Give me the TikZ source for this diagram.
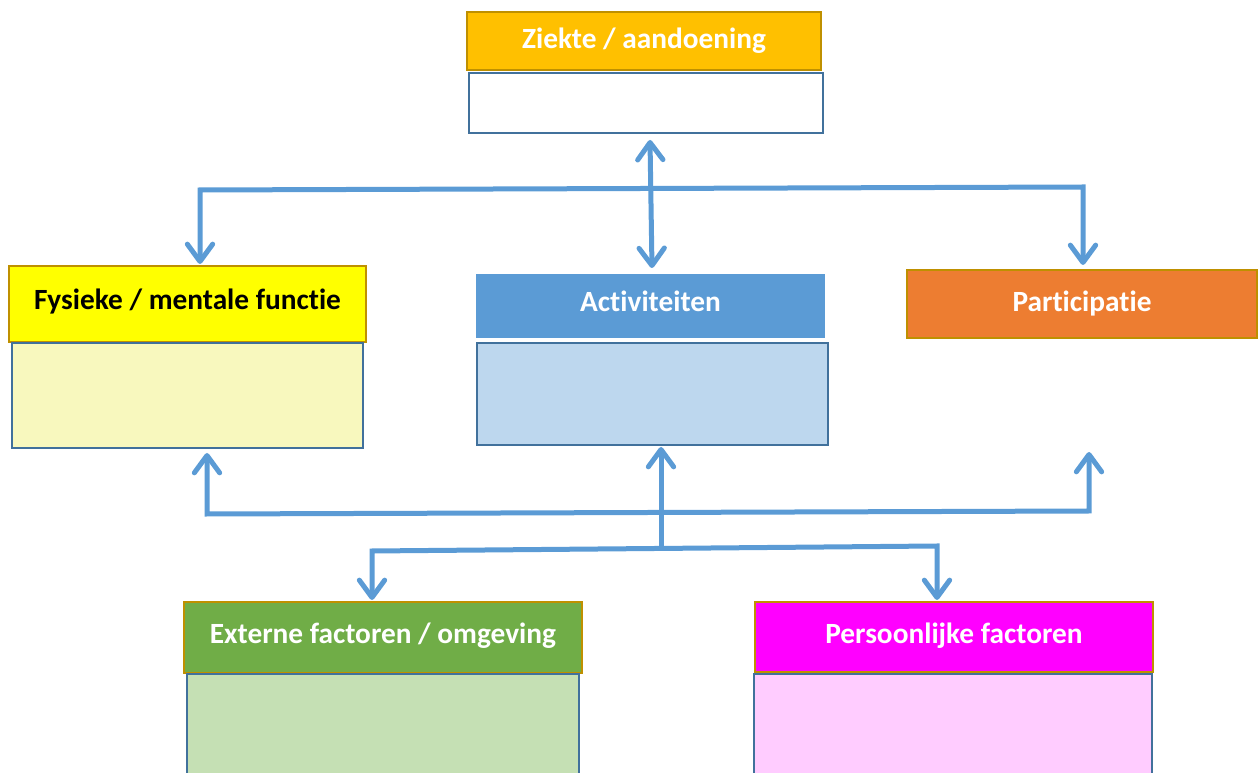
\documentclass[tikz,border=0pt]{standalone}
\usepackage{fontspec}
\setmainfont{Carlito}[Ligatures=NoCommon]
\usetikzlibrary{arrows.meta}
\definecolor{lineblue}{HTML}{5B9BD5}
\definecolor{gold}{HTML}{BF9000}
\definecolor{edgeblue}{HTML}{41719C}
\definecolor{hdrorange}{HTML}{FFC000}
\definecolor{hdryellow}{HTML}{FFFF00}
\definecolor{lowyellow}{HTML}{F8F8BE}
\definecolor{hdrblue}{HTML}{5B9BD5}
\definecolor{lowblue}{HTML}{BDD7EE}
\definecolor{hdrpart}{HTML}{ED7D31}
\definecolor{hdrgreen}{HTML}{70AD47}
\definecolor{lowgreen}{HTML}{C5E0B4}
\definecolor{hdrmag}{HTML}{FF00FF}
\definecolor{lowmag}{HTML}{FFCCFF}
\tikzset{
  hdr/.style={draw=gold, line width=1.5pt, inner sep=0pt, font=\fontsize{22}{25}\selectfont\bfseries, text=white},
  low/.style={draw=edgeblue, line width=1.5pt, inner sep=0pt},
  conn/.style={draw=lineblue, line width=3.75pt, line join=miter},
  tip/.tip={Straight Barb[length=13pt,width=19pt,round]},
}
\begin{document}
\begin{tikzpicture}[x=0.75pt,y=-0.75pt]
\useasboundingbox (0,0) rectangle (1258,773);
\begin{scope}
\clip (0,0) rectangle (1258,773);
% top
\node[hdr, fill=hdrorange, minimum width=265.5pt, minimum height=43.5pt] (zk) at (644,41) {\raisebox{-1pt}{Ziekte / aandoening}};
\node[low, fill=white, minimum width=265.5pt, minimum height=45pt] (zkl) at (646,103) {};
% middle row
\node[hdr, fill=hdryellow, text=black, minimum width=267.75pt, minimum height=57pt] (fys) at (187.5,304) {\raisebox{7pt}{Fysieke / mentale functie}};
\node[low, fill=lowyellow, minimum width=263.25pt, minimum height=78.75pt] (fysl) at (187.5,395.5) {};
\node[hdr, draw=white, fill=hdrblue, minimum width=263.25pt, minimum height=49.5pt] (act) at (650.5,306) {\raisebox{7pt}{Activiteiten}};
\node[low, line width=2pt, fill=lowblue, minimum width=263.25pt, minimum height=76.5pt] (actl) at (652.5,394) {};
\node[hdr, fill=hdrpart, minimum width=262.5pt, minimum height=51pt] (par) at (1082,304) {\raisebox{3pt}{Participatie}};
% bottom row
\node[hdr, fill=hdrgreen, minimum width=298.5pt, minimum height=53.25pt] (ext) at (383,637.5) {\raisebox{6pt}{Externe factoren / omgeving}};
\node[low, fill=lowgreen, minimum width=294pt, minimum height=105pt] (extl) at (383,744) {};
\node[hdr, fill=hdrmag, minimum width=298.5pt, minimum height=52.5pt] (per) at (954,637) {\raisebox{6pt}{Persoonlijke factoren}};
\node[low, fill=lowmag, minimum width=298.5pt, minimum height=105pt] (perl) at (953,744) {};
\end{scope}
% junction coordinates
\coordinate (tl) at (200,190);
\coordinate (tr) at (1083,187);
\coordinate (d1) at (650,140);
\coordinate (d2) at (652,268);
\coordinate (bl) at (207,514);
\coordinate (br) at (1089,511);
\coordinate (blt) at (207,453);
\coordinate (brt) at (1089,452);
\coordinate (ct) at (661,447);
\coordinate (cb) at (661,549);
\coordinate (ll) at (372,551);
\coordinate (lr) at (937,546);
% top connectors
\draw[conn, tip-tip] (tl |- 0,264) -- (tl) -- (tr) -- (tr |- 0,265);
\draw[conn, tip-tip] (d1) -- (d2);
% bottom connectors
\draw[conn, tip-tip] (blt) -- (bl) -- (br) -- (brt);
\draw[conn, -tip] (cb) -- (ct);
\draw[conn, tip-tip] (ll |- 0,600) -- (ll) -- (lr) -- (lr |- 0,600);
\end{tikzpicture}
\end{document}
